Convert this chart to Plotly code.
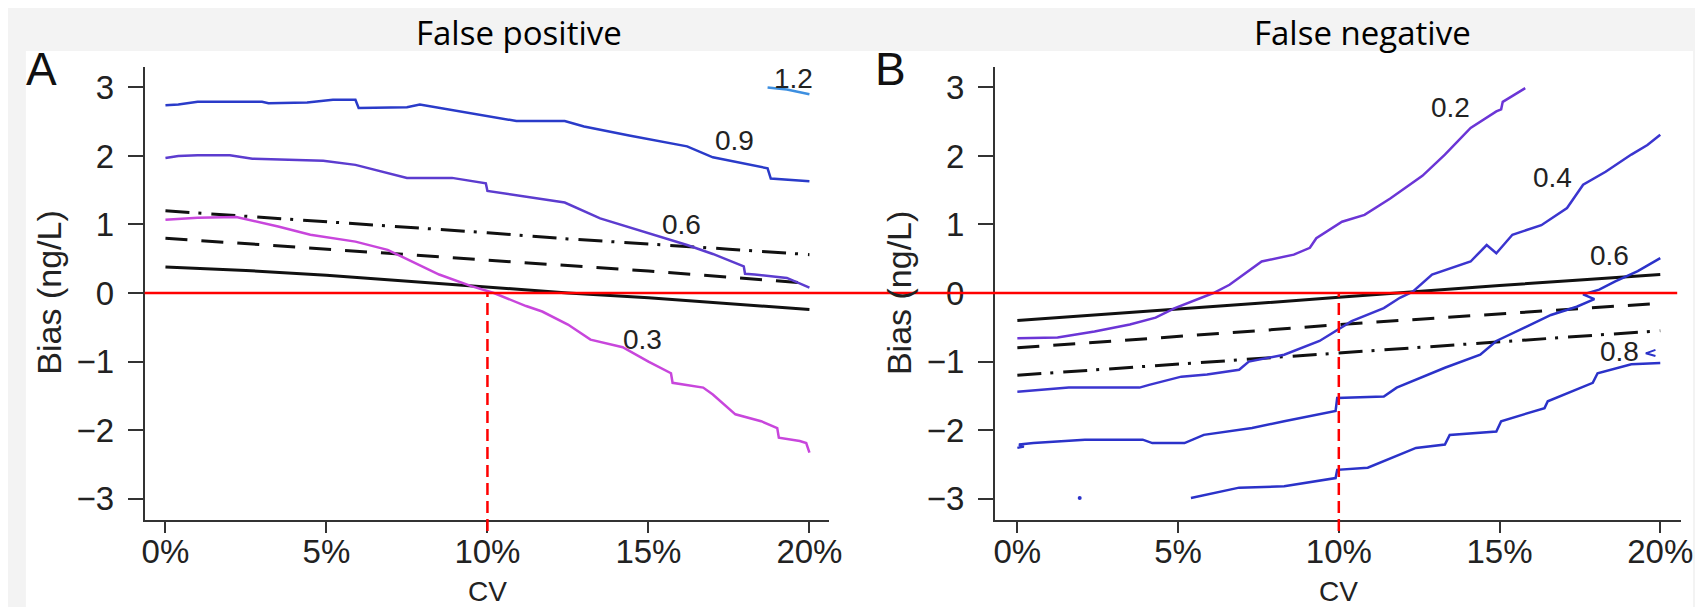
import plotly.graph_objects as go

# ---------------- data ----------------
cv_ticks = [0, 5, 10, 15, 20]
cv_ticktext = ["0%", "5%", "10%", "15%", "20%"]
bias_ticks = [-3, -2, -1, 0, 1, 2, 3]
bias_ticktext = ["\u22123", "\u22122", "\u22121", "0", "1", "2", "3"]

# Panel A (False positive) - reference lines
a_ref_x = [0, 2.5, 5, 7.5, 10, 12.5, 15, 17.5, 20]
a_solid = [0.38, 0.33, 0.26, 0.17, 0.09, 0.0, -0.07, -0.16, -0.24]
a_dash = [0.80, 0.72, 0.65, 0.57, 0.48, 0.40, 0.32, 0.23, 0.14]
a_dashdot = [1.20, 1.12, 1.05, 0.96, 0.88, 0.79, 0.72, 0.64, 0.56]

# Panel A contours
a_c09_x = [0, 0.4, 1.0, 3.0, 3.2, 4.4, 5.2, 5.9, 6.0, 7.5, 7.9, 8.5, 9.7, 10.9, 12.4, 13.0, 14.4, 16.2, 17.0, 18.7, 18.8, 20.0]
a_c09_y = [2.74, 2.75, 2.79, 2.79, 2.77, 2.78, 2.82, 2.82, 2.70, 2.71, 2.75, 2.70, 2.61, 2.51, 2.51, 2.43, 2.30, 2.14, 1.98, 1.82, 1.67, 1.63]
a_c06_x = [0, 0.4, 1.0, 2.0, 2.7, 4.9, 5.9, 7.5, 8.9, 9.95, 10.0, 11.5, 12.4, 13.5, 15.2, 16.2, 17.0, 17.96, 18.0, 18.3, 19.3, 20.0]
a_c06_y = [1.97, 2.00, 2.01, 2.01, 1.96, 1.93, 1.87, 1.68, 1.68, 1.60, 1.49, 1.38, 1.32, 1.09, 0.85, 0.70, 0.57, 0.39, 0.28, 0.27, 0.22, 0.08]
a_c03_x = [0, 0.5, 1.0, 2.2, 3.5, 4.5, 5.9, 6.9, 7.9, 8.5, 9.5, 10.2, 11.2, 11.7, 12.5, 13.2, 14.2, 15.0, 15.7, 15.75, 16.7, 17.0, 17.7, 18.5, 19.0, 19.05, 19.7, 19.9, 20.0]
a_c03_y = [1.07, 1.09, 1.10, 1.11, 0.97, 0.85, 0.75, 0.63, 0.41, 0.27, 0.10, 0.0, -0.19, -0.27, -0.46, -0.68, -0.79, -1.00, -1.17, -1.31, -1.38, -1.48, -1.77, -1.87, -1.97, -2.11, -2.16, -2.19, -2.33]
a_c12_x = [18.7, 19.3, 20.0]
a_c12_y = [3.00, 2.97, 2.90]

# Panel B (False negative) - reference lines
b_ref_x = [0, 2.5, 5, 7.5, 10, 12.5, 15, 17.5, 20]
b_solid = [-0.40, -0.32, -0.23, -0.15, -0.06, 0.03, 0.11, 0.19, 0.27]
b_dash = [-0.80, -0.72, -0.63, -0.55, -0.46, -0.38, -0.30, -0.23, -0.15]
b_dashdot = [-1.20, -1.12, -1.04, -0.95, -0.87, -0.79, -0.71, -0.63, -0.55]

# Panel B contours
b_c02_x = [0, 1.25, 2.4, 3.5, 4.3, 4.9, 6.1, 6.6, 7.6, 8.6, 9.1, 9.3, 10.1, 10.8, 11.6, 12.6, 13.3, 14.1, 14.9, 15.05, 15.1, 15.8]
b_c02_y = [-0.66, -0.65, -0.56, -0.46, -0.36, -0.22, 0.0, 0.12, 0.46, 0.56, 0.66, 0.80, 1.04, 1.14, 1.38, 1.71, 2.02, 2.41, 2.65, 2.68, 2.79, 2.99]
b_c04_x = [0, 1.6, 3.8, 4.1, 5.1, 5.9, 6.9, 7.2, 8.3, 9.4, 10.4, 11.4, 11.9, 12.3, 12.9, 14.1, 14.6, 14.9, 15.4, 16.3, 17.1, 17.6, 18.3, 19.1, 19.6, 20.0]
b_c04_y = [-1.44, -1.38, -1.38, -1.34, -1.22, -1.19, -1.12, -1.00, -0.90, -0.70, -0.41, -0.22, -0.07, 0.02, 0.27, 0.46, 0.70, 0.58, 0.85, 0.99, 1.24, 1.58, 1.77, 2.02, 2.16, 2.31]
b_c06_x = [0, 0.2, 0.05, 0.5, 2.1, 3.9, 4.2, 5.2, 5.8, 7.3, 8.3, 9.9, 9.95, 11.4, 11.8, 13.3, 14.4, 14.9, 16.6, 17.4, 17.95, 17.6, 18.1, 18.6, 19.3, 20.0]
b_c06_y = [-2.26, -2.24, -2.21, -2.19, -2.14, -2.14, -2.19, -2.19, -2.07, -1.97, -1.87, -1.72, -1.53, -1.51, -1.38, -1.09, -0.90, -0.70, -0.32, -0.20, -0.09, -0.02, 0.05, 0.17, 0.32, 0.51]
b_c08_x = [5.4, 6.9, 8.3, 9.9, 9.95, 10.9, 12.4, 13.3, 13.45, 14.9, 15.05, 16.4, 16.5, 17.9, 18.05, 19.1, 20.0]
b_c08_y = [-2.99, -2.84, -2.82, -2.70, -2.58, -2.55, -2.26, -2.21, -2.07, -2.02, -1.87, -1.68, -1.58, -1.31, -1.17, -1.04, -1.02]
b_c08b_x = [19.85, 19.55, 19.85]
b_c08b_y = [-0.83, -0.88, -0.92]
b_dot_x = [1.94]
b_dot_y = [-2.99]

# contour labels
a_lab_text = ["1.2", "0.9", "0.6", "0.3"]
a_lab_x = [19.52, 17.68, 16.02, 14.82]
a_lab_y = [3.13, 2.22, 1.00, -0.68]
b_lab_text = ["0.2", "0.4", "0.6", "0.8"]
b_lab_x = [13.47, 16.64, 18.43, 18.74]
b_lab_y = [2.71, 1.68, 0.55, -0.85]

cv_cut = 10
# ---------------- layout geometry ----------------
W, H = 1703, 607
def px(x):
    return x / W
def py(y):
    return (H - y) / H

xdom_a = [px(135), px(826)]
xdom_b = [px(994), px(1687)]
xr_a = [-0.646, 20.6]
xr_b = [-0.693, 20.65]
ydom = [py(512), py(59)]
yr = [-3.312, 3.298]

BLACK = "#111111"
AXC = "#333333"
C_A03 = "#c846dc"
C_A06 = "#5c3ccf"
C_A09 = "#2a3bc9"
C_A12 = "#3d8fe0"
C_B02 = "#6b35d6"
C_B04 = "#3b35cf"
C_B06 = "#2b32c9"
C_B08 = "#2b32c9"

DASH = "22px,14px"
DASHDOT = "24px,9px,3px,10px"

fig = go.Figure()

def line(x, y, color, xa, ya, dash="solid", width=2.5):
    fig.add_trace(go.Scatter(x=x, y=y, mode="lines", xaxis=xa, yaxis=ya,
                             line=dict(color=color, width=width, dash=dash),
                             showlegend=False, hoverinfo="skip"))

# Panel A
line(a_ref_x, a_solid, BLACK, "x", "y", width=3)
line(a_ref_x, a_dash, BLACK, "x", "y", DASH, width=3)
line(a_ref_x, a_dashdot, BLACK, "x", "y", DASHDOT, width=3)
line(a_c12_x, a_c12_y, C_A12, "x", "y")
line(a_c09_x, a_c09_y, C_A09, "x", "y")
line(a_c06_x, a_c06_y, C_A06, "x", "y")
line(a_c03_x, a_c03_y, C_A03, "x", "y")

# Panel B
line(b_ref_x, b_solid, BLACK, "x2", "y2", width=3)
line(b_ref_x, b_dash, BLACK, "x2", "y2", DASH, width=3)
line(b_ref_x, b_dashdot, BLACK, "x2", "y2", DASHDOT, width=3)
line(b_c02_x, b_c02_y, C_B02, "x2", "y2")
line(b_c04_x, b_c04_y, C_B04, "x2", "y2")
line(b_c06_x, b_c06_y, C_B06, "x2", "y2")
line(b_c08_x, b_c08_y, C_B08, "x2", "y2")
line(b_c08b_x, b_c08b_y, C_B08, "x2", "y2", width=2)
fig.add_trace(go.Scatter(x=b_dot_x, y=b_dot_y, mode="markers", xaxis="x2", yaxis="y2",
                         marker=dict(color=C_B08, size=4), showlegend=False, hoverinfo="skip"))

TICKFONT = dict(family="Liberation Sans, Arial, sans-serif", size=33, color="#222222")
def xaxis_cfg(dom, rng, anchor):
    return dict(domain=dom, range=rng, anchor=anchor, tickvals=cv_ticks, ticktext=cv_ticktext,
                ticks="outside", ticklen=11, tickwidth=1.5, tickcolor=AXC,
                showline=True, linecolor=AXC, linewidth=2, mirror=False,
                showgrid=False, zeroline=False, tickfont=TICKFONT, ticklabelstandoff=-10)
def yaxis_cfg(rng, anchor):
    return dict(domain=ydom, range=rng, anchor=anchor, tickvals=bias_ticks,
                ticktext=bias_ticktext,
                ticks="outside", ticklen=15, tickwidth=1.5, tickcolor=AXC,
                showline=True, linecolor=AXC, linewidth=2, mirror=False,
                showgrid=False, zeroline=False, tickfont=TICKFONT, ticklabelstandoff=7)

def ypaper(v):
    return ydom[0] + (v - yr[0]) / (yr[1] - yr[0]) * (ydom[1] - ydom[0])
def xpaper(v, dom, rng):
    return dom[0] + (v - rng[0]) / (rng[1] - rng[0]) * (dom[1] - dom[0])

shapes = [
    dict(type="rect", xref="paper", yref="paper", x0=px(15), x1=px(1699), y0=0, y1=py(43),
         fillcolor="white", line=dict(width=0), layer="below"),
    # horizontal zero line across both panels
    dict(type="line", xref="paper", yref="paper", x0=xdom_a[0], x1=px(1683),
         y0=ypaper(0), y1=ypaper(0), line=dict(color="#ff0000", width=2.5)),
]
for dom, rng in [(xdom_a, xr_a), (xdom_b, xr_b)]:
    xv = xpaper(cv_cut, dom, rng)
    shapes.append(dict(type="line", xref="paper", yref="paper", x0=xv, x1=xv,
                       y0=ydom[0] - 11 / H, y1=ypaper(0),
                       line=dict(color="#ff0000", width=2.5, dash="12px,6px")))

ann = []
TITLEFONT = dict(family="Open Sans, Noto Sans, sans-serif", size=33, color="#000000")
LABFONT = dict(family="Liberation Sans, Arial, sans-serif", size=34, color="#222222")
CVFONT = dict(family="Liberation Sans, Arial, sans-serif", size=28, color="#222222")
ann.append(dict(text="False positive", x=px(513), y=py(25), xref="paper", yref="paper",
                showarrow=False, font=TITLEFONT, xanchor="center", yanchor="middle"))
ann.append(dict(text="False negative", x=px(1365), y=py(25), xref="paper", yref="paper",
                showarrow=False, font=TITLEFONT, xanchor="center", yanchor="middle"))
ann.append(dict(text="A", x=px(31), y=py(61), xref="paper", yref="paper", showarrow=False,
                font=dict(family="Liberation Sans, Arial", size=46, color="#111111"),
                xanchor="center", yanchor="middle"))
ann.append(dict(text="B", x=px(888), y=py(61), xref="paper", yref="paper", showarrow=False,
                font=dict(family="Liberation Sans, Arial", size=46, color="#111111"),
                xanchor="center", yanchor="middle"))
for xc in [38, 897]:
    ann.append(dict(text="Bias (ng/L)", x=px(xc), y=ypaper(0), xref="paper", yref="paper",
                    showarrow=False, textangle=-90, font=LABFONT,
                    xanchor="center", yanchor="middle"))
for dom, rng in [(xdom_a, xr_a), (xdom_b, xr_b)]:
    ann.append(dict(text="CV", x=xpaper(cv_cut, dom, rng), y=py(583), xref="paper", yref="paper",
                    showarrow=False, font=CVFONT, xanchor="center", yanchor="middle",
                    borderpad=0))
CLFONT = dict(family="Liberation Sans, Arial, sans-serif", size=28, color="#222222")
for t, x, y in zip(a_lab_text, a_lab_x, a_lab_y):
    ann.append(dict(text=t, x=x, y=y, xref="x", yref="y", showarrow=False, font=CLFONT,
                    xanchor="center", yanchor="middle"))
for t, x, y in zip(b_lab_text, b_lab_x, b_lab_y):
    ann.append(dict(text=t, x=x, y=y, xref="x2", yref="y2", showarrow=False, font=CLFONT,
                    xanchor="center", yanchor="middle"))

fig.update_layout(
    width=W, height=H, margin=dict(l=0, r=0, t=0, b=0),
    paper_bgcolor="#f3f3f3", plot_bgcolor="white",
    xaxis=xaxis_cfg(xdom_a, xr_a, "y"),
    yaxis=yaxis_cfg(yr, "x"),
    xaxis2=xaxis_cfg(xdom_b, xr_b, "y2"),
    yaxis2=yaxis_cfg(yr, "x2"),
    shapes=shapes, annotations=ann, showlegend=False,
)

fig.write_html("out.html")
